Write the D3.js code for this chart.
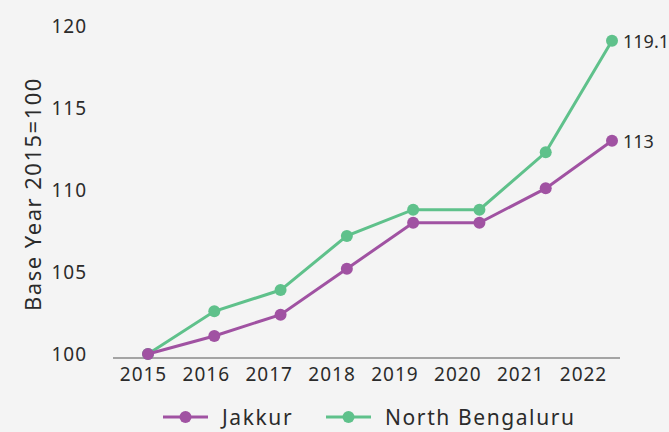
<!DOCTYPE html>
<html>
<head>
<meta charset="utf-8">
<script src="https://cdn.jsdelivr.net/npm/d3@7"></script>
<style>
  html, body { margin: 0; padding: 0; background: #f4f4f4; }
  svg { display: block; font-family: "Noto Sans", sans-serif; }
</style>
</head>
<body>
<svg id="chart"></svg>
<script>
const years = ["2015", "2016", "2017", "2018", "2019", "2020", "2021", "2022"]
const jakkur = [100, 101.1, 102.4, 105.2, 108.0, 108.0, 110.1, 113]
const northBengaluru = [100, 102.6, 103.9, 107.2, 108.8, 108.8, 112.3, 119.1]
const yTicks = [100, 105, 110, 115, 120]

const width = 669
const height = 432
const purple = "#a052a2"
const green = "#5fc18b"
const textColor = "#2b2b2b"

const svg = d3.select("#chart")
    .attr("width", width)
    .attr("height", height)

// points and labels don't sit on the same positions in the original
const x = d3.scalePoint().domain(years).range([148, 612])
const xLabel = d3.scalePoint().domain(years).range([143, 583])
const y = d3.scaleLinear().domain([100, 120]).range([354, 26])

// baseline
svg.append("line")
    .attr("x1", 113).attr("x2", 620)
    .attr("y1", 358).attr("y2", 358)
    .attr("stroke", "#8a8a8a")
    .attr("stroke-width", 1.5)

// x labels
const xAxis = svg.append("g")
    .attr("transform", "translate(0,358)")
    .call(d3.axisBottom(xLabel).tickSize(0).tickPadding(10))
xAxis.select(".domain").remove()
xAxis.selectAll("text")
    .attr("font-size", 19)
    .attr("font-family", "Noto Sans")
    .attr("letter-spacing", 1)
    .attr("fill", textColor)

// y labels
const yAxis = svg.append("g")
    .attr("transform", "translate(87,0)")
    .call(d3.axisLeft(y).tickValues(yTicks).tickSize(0).tickPadding(0))
yAxis.select(".domain").remove()
yAxis.selectAll("text")
    .attr("font-size", 19)
    .attr("font-family", "Noto Sans")
    .attr("letter-spacing", 1)
    .attr("fill", textColor)

svg.append("text")
    .attr("transform", "translate(32,194) rotate(-90)")
    .attr("text-anchor", "middle")
    .attr("dominant-baseline", "central")
    .attr("font-size", 22)
    .attr("letter-spacing", 1.5)
    .attr("fill", textColor)
    .text("Base Year 2015=100")

const series = [
    {name: "North Bengaluru", values: northBengaluru, color: green},
    {name: "Jakkur", values: jakkur, color: purple}
]

const line = d3.line()
    .x((d, i) => x(years[i]))
    .y(d => y(d))

series.forEach(s => {
    svg.append("path")
        .datum(s.values)
        .attr("d", line)
        .attr("fill", "none")
        .attr("stroke", s.color)
        .attr("stroke-width", 3)

    svg.selectAll(null)
        .data(s.values)
        .enter()
        .append("circle")
        .attr("cx", (d, i) => x(years[i]))
        .attr("cy", d => y(d))
        .attr("r", 6)
        .attr("fill", s.color)

    const last = s.values[s.values.length - 1]
    svg.append("text")
        .attr("x", x(years[years.length - 1]) + 11)
        .attr("y", y(last))
        .attr("dominant-baseline", "central")
        .attr("font-size", 18)
        .attr("fill", textColor)
        .text(last)
})

// legend
const legend = [
    {name: "Jakkur", color: purple, x: 163},
    {name: "North Bengaluru", color: green, x: 326}
]
const lg = svg.selectAll(".legend")
    .data(legend)
    .enter()
    .append("g")
    .attr("transform", d => "translate(" + d.x + ",417)")
lg.append("line")
    .attr("x1", 0).attr("x2", 45)
    .attr("stroke", d => d.color)
    .attr("stroke-width", 3)
lg.append("circle")
    .attr("cx", 22.5)
    .attr("r", 6)
    .attr("fill", d => d.color)
lg.append("text")
    .attr("x", 59)
    .attr("dominant-baseline", "central")
    .attr("font-size", 21)
    .attr("letter-spacing", 1.6)
    .attr("fill", textColor)
    .text(d => d.name)
</script>
</body>
</html>
